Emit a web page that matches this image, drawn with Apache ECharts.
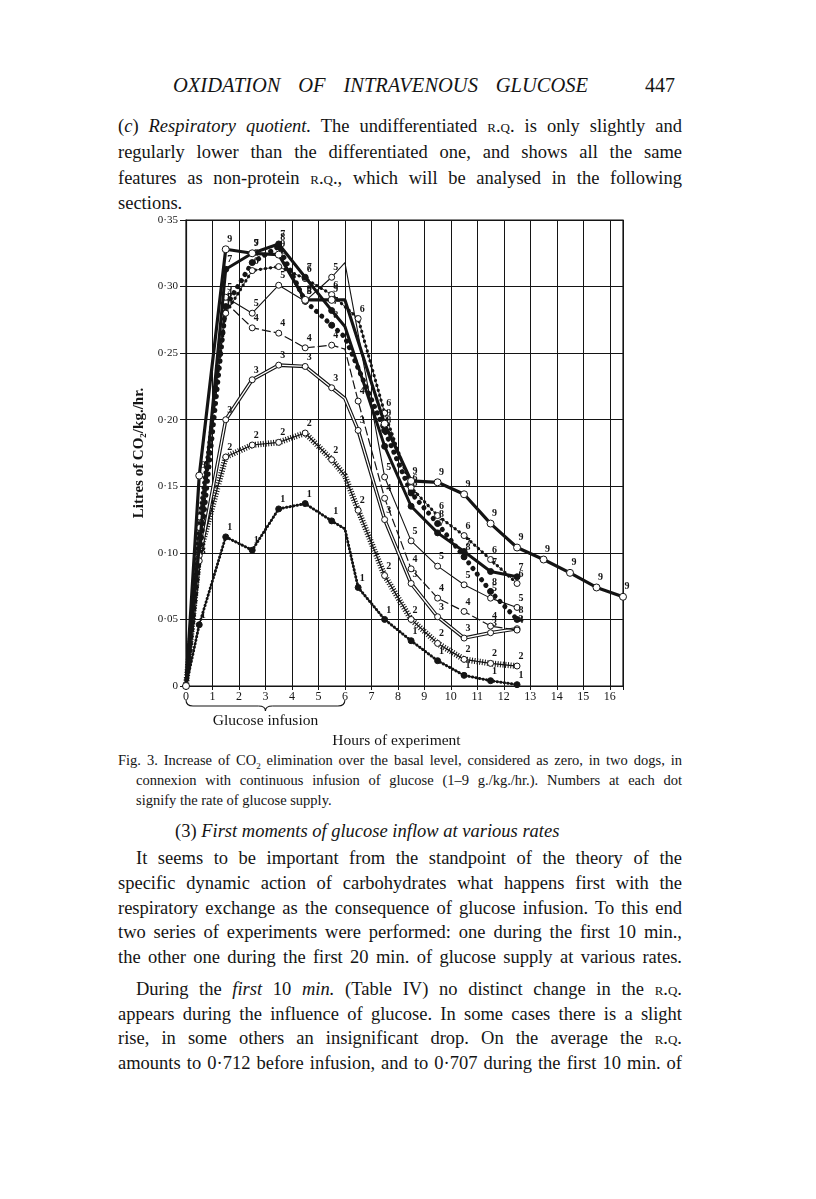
<!DOCTYPE html>
<html><head><meta charset="utf-8">
<script src="https://cdn.jsdelivr.net/npm/echarts@6/dist/echarts.min.js"></script>
<style>
html,body{margin:0;padding:0;background:#fff;}
body{width:816px;height:1199px;position:relative;overflow:hidden;font-family:"Liberation Serif","DejaVu Serif",serif;color:#141414;}
.t{position:absolute;left:118px;width:564px;font-size:18.5px;line-height:22px;white-space:nowrap;}
.j{text-align:justify;text-align-last:justify;white-space:normal;}
.c{position:absolute;font-size:14.5px;line-height:18px;white-space:nowrap;}
.sc{font-variant:small-caps;}
#chart{position:absolute;left:0;top:200px;width:816px;height:560px;}
</style></head><body>
<div style="position:absolute;left:173px;top:74px;width:415px;font-size:20.5px;font-style:italic;text-align:justify;text-align-last:justify;">OXIDATION OF INTRAVENOUS GLUCOSE</div>
<div style="position:absolute;left:645px;top:74px;font-size:20px;">447</div>

<div class="t j" style="top:115px;">(<i>c</i>) <i>Respiratory quotient.</i> The undifferentiated <span class="sc">r.q.</span> is only slightly and</div>
<div class="t j" style="top:141px;">regularly lower than the differentiated one, and shows all the same</div>
<div class="t j" style="top:167px;">features as non-protein <span class="sc">r.q.</span>, which will be analysed in the following</div>
<div class="t" style="top:192px;">sections.</div>

<div class="c" style="left:118px;top:751px;width:564px;text-align:justify;text-align-last:justify;">Fig. 3. Increase of CO<sub style="font-size:9px">2</sub> elimination over the basal level, considered as zero, in two dogs, in</div>
<div class="c" style="left:136px;top:771px;width:546px;text-align:justify;text-align-last:justify;">connexion with continuous infusion of glucose (1–9 g./kg./hr.). Numbers at each dot</div>
<div class="c" style="left:136px;top:791px;">signify the rate of glucose supply.</div>

<div class="t" style="top:820px;left:175px;width:auto;">(3) <i>First moments of glucose inflow at various rates</i></div>

<div class="t j" style="top:847px;left:136px;width:546px;">It seems to be important from the standpoint of the theory of the</div>
<div class="t j" style="top:872px;">specific dynamic action of carbohydrates what happens first with the</div>
<div class="t j" style="top:897px;">respiratory exchange as the consequence of glucose infusion. To this end</div>
<div class="t j" style="top:921px;">two series of experiments were performed: one during the first 10 min.,</div>
<div class="t j" style="top:946px;">the other one during the first 20 min. of glucose supply at various rates.</div>
<div class="t j" style="top:978px;left:136px;width:546px;">During the <i>first</i> 10 <i>min.</i> (Table IV) no distinct change in the <span class="sc">r.q.</span></div>
<div class="t j" style="top:1003px;">appears during the influence of glucose. In some cases there is a slight</div>
<div class="t j" style="top:1027px;">rise, in some others an insignificant drop. On the average the <span class="sc">r.q.</span></div>
<div class="t j" style="top:1052px;">amounts to 0·712 before infusion, and to 0·707 during the first 10 min. of</div>

<div id="chart"></div>
<script>
// ---- data (hours, litres CO2/kg/hr) ----
const hourTicks = [0,1,2,3,4,5,6,7,8,9,10,11,12,13,14,15,16];
const valueTicks = [0,0.05,0.10,0.15,0.20,0.25,0.30,0.35];
const rate1 = [[0,0],[0.5,0.046],[1.5,0.112],[2.5,0.102],[3.5,0.133],[4.5,0.137],[5.5,0.124],[6,0.118],[6.5,0.074],[7.5,0.050],[8.5,0.034],[9.5,0.019],[10.5,0.008],[11.5,0.004],[12.5,0.001]];
const rate2 = [[0,0],[0.5,0.098],[1.5,0.172],[2.5,0.181],[3.5,0.183],[4.5,0.190],[5.5,0.170],[6,0.158],[6.5,0.132],[7.5,0.083],[8.5,0.050],[9.5,0.032],[10.5,0.020],[11.5,0.017],[12.5,0.015]];
const rate3 = [[0,0],[0.5,0.094],[1.5,0.200],[2.5,0.230],[3.5,0.241],[4.5,0.240],[5.5,0.224],[6,0.216],[6.5,0.192],[7.5,0.125],[8.5,0.077],[9.5,0.052],[10.5,0.036],[11.5,0.040],[12.5,0.043]];
const rate4 = [[0,0],[1.5,0.288],[2.5,0.269],[3.5,0.265],[4.5,0.254],[5.5,0.256],[6,0.253],[6.5,0.214],[7.5,0.141],[8.5,0.088],[9.5,0.066],[10.5,0.056],[11.5,0.045],[12.5,0.042]];
const rate5 = [[0,0],[0.5,0.119],[1.5,0.292],[2.5,0.280],[3.5,0.301],[4.5,0.289],[5.5,0.307],[6,0.318],[7.5,0.157],[8.5,0.109],[9.5,0.090],[10.5,0.076],[11.5,0.066],[12.5,0.059]];
const rate6 = [[0,0],[0.5,0.127],[1.5,0.280],[2.5,0.312],[3.5,0.315],[4.5,0.306],[5.5,0.294],[6.5,0.276],[7.5,0.205],[8.5,0.149],[9.5,0.128],[10.5,0.113],[11.5,0.095],[12.5,0.077]];
const rate7 = [[0,0],[1.5,0.313],[2.5,0.325],[3.5,0.332],[4.5,0.307],[5.5,0.282],[6,0.270],[7.5,0.180],[8.5,0.135],[9.5,0.115],[10.5,0.101],[11.5,0.086],[12.5,0.082]];
const rate8 = [[0,0],[1.5,0.285],[2.5,0.318],[3.5,0.330],[4.5,0.289],[5.5,0.271],[6,0.262],[7.5,0.192],[8.5,0.145],[9.5,0.122],[10.5,0.097],[11.5,0.071],[12.5,0.050]];
const rate9 = [[0,0],[0.5,0.158],[1.5,0.328],[2.5,0.325],[3.5,0.324],[4.5,0.290],[5.5,0.290],[6,0.290],[7.5,0.197],[8.5,0.154],[9.5,0.153],[10.5,0.144],[11.5,0.122],[12.5,0.104],[13.5,0.095],[14.5,0.085],[15.5,0.074],[16.5,0.067]];
const infusionEnd = 6;

const INK = '#141414';
const FONT = '"Liberation Serif","DejaVu Serif",serif';

function pts(data, num){
  return data.map(([x,y]) => {
    const corner = (x === infusionEnd);
    const origin = (x === 0);
    const item = {value:[x,y]};
    if (corner) item.symbol = 'none';
    item.label = {show: !corner && !origin};
    return item;
  });
}
function overlay(data, lineStyle, z){
  return {type:'line', data: data.map(d=>d.slice()), symbol:'none', silent:true, z:z,
    lineStyle: Object.assign({color:INK}, lineStyle), animation:false};
}
function main(data, num, opts){
  return {type:'line', name:String(num), data: pts(data,num), z: opts.z || 3,
    symbol:'circle', symbolSize: opts.size || 6,
    itemStyle:{color: opts.filled ? INK : '#fff', borderColor: INK, borderWidth: 1},
    lineStyle: Object.assign({color:INK, width:1.1}, opts.line || {}),
    label:{show:true, formatter: String(num), position:'top', distance:1, offset:[4,0],
      fontFamily:FONT, fontSize:10, fontWeight:'bold', color:INK},
    animation:false};
}

const series = [
  overlay(rate1, {width:3, type:[0.1,3.5], cap:'round'}, 2),
  main(rate1, 1, {filled:true, size:6, line:{width:1.4}}),
  overlay(rate2, {width:6, type:[1,1.6]}, 2),
  main(rate2, 2, {size:6, line:{width:1.2}}),
  overlay(rate3, {width:3.6}, 2),
  main(rate3, 3, {size:6, line:{width:1.3, color:'#fff'}}),
  main(rate4, 4, {size:6, line:{width:1.2, type:[9,3]}}),
  main(rate5, 5, {size:6, line:{width:1.1}}),
  overlay(rate6, {width:3.2, type:[0.1,5], cap:'round'}, 2),
  main(rate6, 6, {size:6, line:{width:0.9}}),
  main(rate8, 8, {filled:true, size:6, line:{width:5, type:[0.1,7], cap:'round'}}),
  main(rate7, 7, {filled:true, size:6, line:{width:3}, z:4}),
  main(rate9, 9, {size:7, line:{width:3.2}, z:5})
];

const chart = echarts.init(document.getElementById('chart'), null, {renderer:'canvas'});
chart.setOption({
  backgroundColor:'transparent',
  animation:false,
  grid:{left:186, top:20, width:437, height:466, show:true, borderColor:INK, borderWidth:1.2, backgroundColor:'transparent'},
  xAxis:{type:'value', min:0, max:16.5, interval:1,
    name:'Hours of experiment', nameLocation:'middle', nameGap:47,
    nameTextStyle:{fontFamily:FONT, fontSize:15.5, color:INK, padding:[0,16,0,0]},
    axisLine:{show:true, lineStyle:{color:INK, width:1.2}},
    axisTick:{show:true, length:4, lineStyle:{color:INK}},
    axisLabel:{fontFamily:FONT, fontSize:12, color:INK, margin:5,
      formatter: v => hourTicks.indexOf(v) >= 0 ? String(v) : ''},
    splitLine:{show:true, lineStyle:{color:INK, width:1}}
  },
  yAxis:{type:'value', min:0, max:0.35, interval:0.05,
    name:'Litres of CO₂/kg./hr.', nameLocation:'middle', nameGap:36, nameRotate:90,
    nameTextStyle:{fontFamily:FONT, fontSize:15, fontWeight:'bold', color:INK},
    axisLine:{show:true, lineStyle:{color:INK, width:1.2}},
    axisTick:{show:true, length:6, lineStyle:{color:INK}},
    axisLabel:{fontFamily:FONT, fontSize:11, color:INK, margin:8,
      formatter: v => { const t = valueTicks.find(u => Math.abs(u-v) < 1e-9); return t === 0 ? '0' : (t !== undefined ? t.toFixed(2).replace('.','·') : ''); }},
    splitLine:{show:true, lineStyle:{color:INK, width:1}}
  },
  series: series
});

// brace under the infusion period
const p0 = chart.convertToPixel({gridIndex:0}, [0,0]);
const pc = chart.convertToPixel({gridIndex:0}, [infusionEnd/2,0]);
const p6 = chart.convertToPixel({gridIndex:0}, [infusionEnd,0]);
const yT = p0[1]+14, yM = p0[1]+20, yN = p0[1]+25, r = 7;
const bst = {stroke:INK, lineWidth:1.1, fill:null};
function curve(x1,y1,cx,cy,x2,y2){ return {type:'bezierCurve', shape:{x1:x1,y1:y1,cpx1:cx,cpy1:cy,x2:x2,y2:y2}, style:bst, silent:true}; }
function seg(x1,y1,x2,y2){ return {type:'line', shape:{x1:x1,y1:y1,x2:x2,y2:y2}, style:bst, silent:true}; }
chart.setOption({graphic:[
  curve(p0[0], yT, p0[0], yM, p0[0]+r, yM),
  seg(p0[0]+r, yM, pc[0]-r, yM),
  curve(pc[0]-r, yM, pc[0], yM, pc[0], yN),
  curve(pc[0], yN, pc[0], yM, pc[0]+r, yM),
  seg(pc[0]+r, yM, p6[0]-r, yM),
  curve(p6[0]-r, yM, p6[0], yM, p6[0], yT),
  {type:'text', x:pc[0], y:p0[1]+35, style:{text:'Glucose infusion', font:'15.5px '+FONT, fill:INK, align:'center', verticalAlign:'middle'}, silent:true}
]});
</script>
</body></html>
